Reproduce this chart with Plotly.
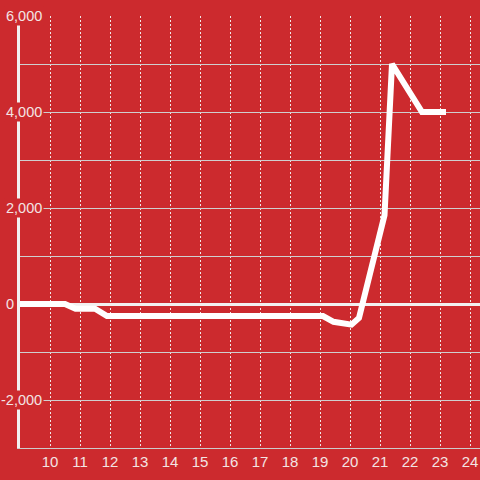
import plotly.graph_objects as go

# data
x_vals = [9, 10.5, 10.85, 11.5, 11.9, 19.1, 19.45, 20.05, 20.3, 21.15, 21.4, 22.4, 23.2]
y_vals = [0, 0, -100, -100, -250, -250, -370, -430, -290, 1850, 5000, 4000, 4000]

x_ticks = list(range(10, 25))
y_label_vals = [-2000, 0, 2000, 4000, 6000]
y_label_text = ["-2,000", "0", "2,000", "4,000", "6,000"]

BG = "#cc2a2e"
TXT = "#f3e4e4"
FONT = "Liberation Sans, Arial, sans-serif"

W, H = 480, 480
ML, MR, MT, MB = 20, 0, 16, 32
PW = W - ML - MR
px_per_unit = 30
x_range = [9, 9 + PW / px_per_unit]

fig = go.Figure()
fig.add_trace(go.Scatter(
    x=x_vals, y=y_vals, mode="lines",
    line=dict(color="#ffffff", width=6),
    hoverinfo="skip", showlegend=False,
))

for v, t in zip(y_label_vals, y_label_text):
    right_px = 16 if v == 0 else 44   # pixel of the label box's right edge
    fig.add_annotation(
        x=(right_px - ML) / PW, xref="paper",
        y=v, yref="y",
        text=t, showarrow=False,
        xanchor="right", yanchor="middle",
        font=dict(family=FONT, size=14.5, color=TXT),
        bgcolor=BG if v != 0 else "rgba(0,0,0,0)", borderpad=1,
    )

fig.update_layout(
    width=W, height=H,
    margin=dict(l=ML, r=MR, t=MT, b=MB),
    paper_bgcolor=BG, plot_bgcolor=BG,
    font=dict(family=FONT, size=15, color=TXT),
    showlegend=False,
    xaxis=dict(
        range=x_range,
        tickvals=x_ticks,
        ticktext=[str(v) for v in x_ticks],
        showgrid=True, gridcolor="#f0e8e8", gridwidth=1, griddash="2px,2px",
        zeroline=False,
        showline=True, linecolor="#cccccc", linewidth=1,
        ticks="",
        tickfont=dict(family=FONT, size=15, color=TXT),
        layer="below traces",
    ),
    yaxis=dict(
        range=[-3000, 6000],
        dtick=1000,
        showticklabels=False,
        showgrid=True, gridcolor="#cfcfcf", gridwidth=1,
        zeroline=True, zerolinecolor="#f2f0f0", zerolinewidth=3,
        showline=True, linecolor="#f2f0f0", linewidth=3,
        ticks="",
        layer="below traces",
    ),
)

fig.write_html(
    "out.html",
    config={"displayModeBar": False, "staticPlot": True},
    post_script="document.body.style.margin='0';document.body.style.padding='0';"
                "document.body.style.overflow='hidden';",
)
